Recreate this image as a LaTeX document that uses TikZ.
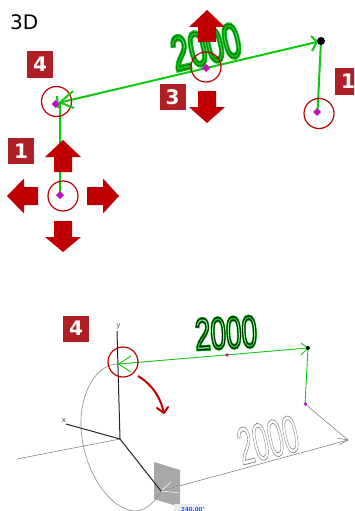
\documentclass[tikz,border=0pt]{standalone}
\usepackage{fontspec}
\setmainfont{DejaVu Sans}
\newfontfamily\numfont{Liberation Sans}
\usetikzlibrary{calc}
\definecolor{arrowred}{HTML}{C00000}
\definecolor{tagred}{HTML}{B01E26}
\definecolor{linegreen}{HTML}{10C810}
\definecolor{mag}{HTML}{C010C0}
\definecolor{planegray}{HTML}{A8A8A8}
\definecolor{labelblue}{HTML}{2060F0}
\tikzset{
  x=1pt,y=-1pt,
  pt/.style={inner sep=0pt,minimum size=0pt},
  tagbox/.style={fill=tagred,text=white,inner sep=0pt,minimum width=26pt,minimum height=26pt,font=\bfseries\fontsize{20}{20}\selectfont},
  ring/.style={draw=arrowred,line width=1.2pt,circle,inner sep=0pt,minimum size=30pt},
  gline/.style={draw=linegreen,line width=2pt},
  glinelow/.style={draw=linegreen,line width=0.9pt},
  grayline/.style={draw=black!55,line width=0.5pt},
  axisline/.style={draw=black!85,line width=1pt},
  axislabel/.style={font=\fontsize{7}{7}\selectfont,text=black!70,inner sep=0pt},
}
\newcommand{\mdiamond}[3]{\fill[mag] (#1,#2)++(-#3,0)--++(#3,-#3)--++(#3,#3)--++(-#3,#3)--cycle;}
\newcommand{\upblock}[3]{\fill[arrowred] (#1-9,#3)--(#1-9,#2+17)--(#1-18,#2+17)--(#1,#2)--(#1+18,#2+17)--(#1+9,#2+17)--(#1+9,#3)--cycle;}
\newcommand{\downblock}[3]{\fill[arrowred] (#1-9,#2)--(#1-9,#2+16)--(#1-18,#2+16)--(#1,#3)--(#1+18,#2+16)--(#1+9,#2+16)--(#1+9,#2)--cycle;}
\newcommand{\strokenum}[9]{%
 \begin{scope}[shift={(#2,#3)}]
 \node[pt,rotate=#4,xscale=#5,xslant=#9,transform shape] (#1) at (0,0) {\numfont\fontsize{#6}{#6}\selectfont\special{pdf:code 1 Tr #8 w #7 RG}2000\special{pdf:code 0 Tr 0 G}};
 \end{scope}}
\begin{document}
\begin{tikzpicture}
\useasboundingbox (0,0) rectangle (354,511);
\clip (0,0) rectangle (354,511);
\fill[white] (0,0) rectangle (354,511);
\node[anchor=west,inner sep=0pt,font=\fontsize{20}{20}\selectfont] (title) at (10,22) {3D};

% ---------- upper view
\strokenum{numa}{206}{47}{13}{0.64}{49}{0.05 0.75 0.1}{3.6}{0}
\strokenum{numb}{206}{47}{13}{0.64}{49}{0 0.38 0}{0.8}{0}
\coordinate (ar) at (317.5,112);
\coordinate (ac) at (321,41);
\coordinate (al) at (60,102.5);
\coordinate (ab) at (60,195);
\draw[gline] (ar) -- (ac);
\draw[gline] (ac) -- (al);
\draw[gline] (al) -- (ab);
\upblock{207}{10}{42}
\downblock{207}{91}{123}
\upblock{63}{140}{172}
\downblock{63}{221}{252}
\fill[arrowred] (38,187)--(24,187)--(24,178.5)--(7,196)--(24,213.5)--(24,205)--(38,205)--cycle;
\fill[arrowred] (87,187)--(103,187)--(103,178.5)--(119,196)--(103,213.5)--(103,205)--(87,205)--cycle;
\node[ring] (ra) at (56.5,101.5) {};
\node[ring] (rb) at (206,67) {};
\node[ring] (rc) at (319,113.5) {};
\node[ring] (rd) at (63,196) {};
\draw[gline] (57,96) -- (58,108);
\draw[gline] (73,91) -- (al) -- (74,108);
\draw[gline] (311,36) -- (317,41.5) -- (312,51);
\fill[black] (ac) circle (4);
\mdiamond{55.5}{104}{4}
\mdiamond{206}{68}{4}
\mdiamond{317}{112}{4}
\mdiamond{60}{195}{4}
\node[tagbox] (t4a) at (40,64.5) {4};
\node[tagbox] (t3) at (172.5,97) {3};
\node[tagbox] (t1a) at (348,81.5) {1};
\node[tagbox] (t1b) at (21,151) {1};

% ---------- lower view
\strokenum{numc}{226}{333}{3}{0.62}{45}{0.05 0.75 0.1}{2.8}{0}
\strokenum{numd}{226}{333}{3}{0.62}{45}{0 0.12 0}{1.3}{0}
\strokenum{nume}{268}{440}{14}{0.52}{53}{0.5 0.5 0.5}{0.7}{0.06}

\coordinate (o) at (120,439);
\coordinate (yt) at (117,331);
\coordinate (xt) at (66,424);
\coordinate (zt) at (161,491);
\coordinate (lt) at (118.5,364);
\coordinate (lc) at (308,348);
\coordinate (lb) at (305,404);
\coordinate (gr) at (348,440);
\coordinate (gl) at (17,459);
\fill[planegray] (154,462)--(180,470)--(180,507)--(154,499)--cycle;
\draw[white,line width=0.5pt] (zt) -- (180,486);
\draw[white,line width=0.5pt] (171,482) -- (zt) -- (179,493);
\draw[grayline] (gl) -- (o);
\draw[grayline] (zt) -- (gr);
\draw[grayline] (lb) -- (gr);
\draw[grayline] (337,438) -- (gr) -- (339,445);
\draw[grayline,black!45,line width=0.6pt] (lt) .. controls (95,364) and (80,395) .. (81,425) .. controls (82,470) and (110,510) .. (135,511) .. controls (147,511) and (156,500) .. (zt);
\draw[axisline] (yt) -- (o);
\draw[axisline] (xt) -- (o);
\draw[axisline] (zt) -- (o);
\node[axislabel] (ly) at (118.5,326) {y};
\node[axislabel] (lx) at (64,421) {x};
\draw[glinelow] (lt) -- (lc);
\draw[glinelow] (lc) -- (lb);
\draw[glinelow] (131,356) -- (lt) -- (131,372);
\draw[glinelow] (301,343) -- (lc) -- (301,355);
\fill[black] (lc) circle (2);
\mdiamond{227}{355}{1.8}
\mdiamond{305.5}{404}{1.8}
\node[ring] (re) at (123,362) {};
\coordinate (cs) at (138,376);
\coordinate (ce) at (164,413);
\draw[arrowred,line width=2pt] (cs) .. controls (150,383) and (160,395) .. (ce);
\draw[arrowred,line width=2pt,line cap=round,line join=round] (157,408) -- (ce) -- (168,407);
\node[tagbox] (t4b) at (76,328.5) {4};
\fill[white!92!black] (174,504) rectangle (200,511);
\node[anchor=west,inner sep=0pt,text=labelblue,font=\bfseries\fontsize{5.5}{5.5}\selectfont] (ang) at (181,509) {240.00°};
\end{tikzpicture}
\end{document}
